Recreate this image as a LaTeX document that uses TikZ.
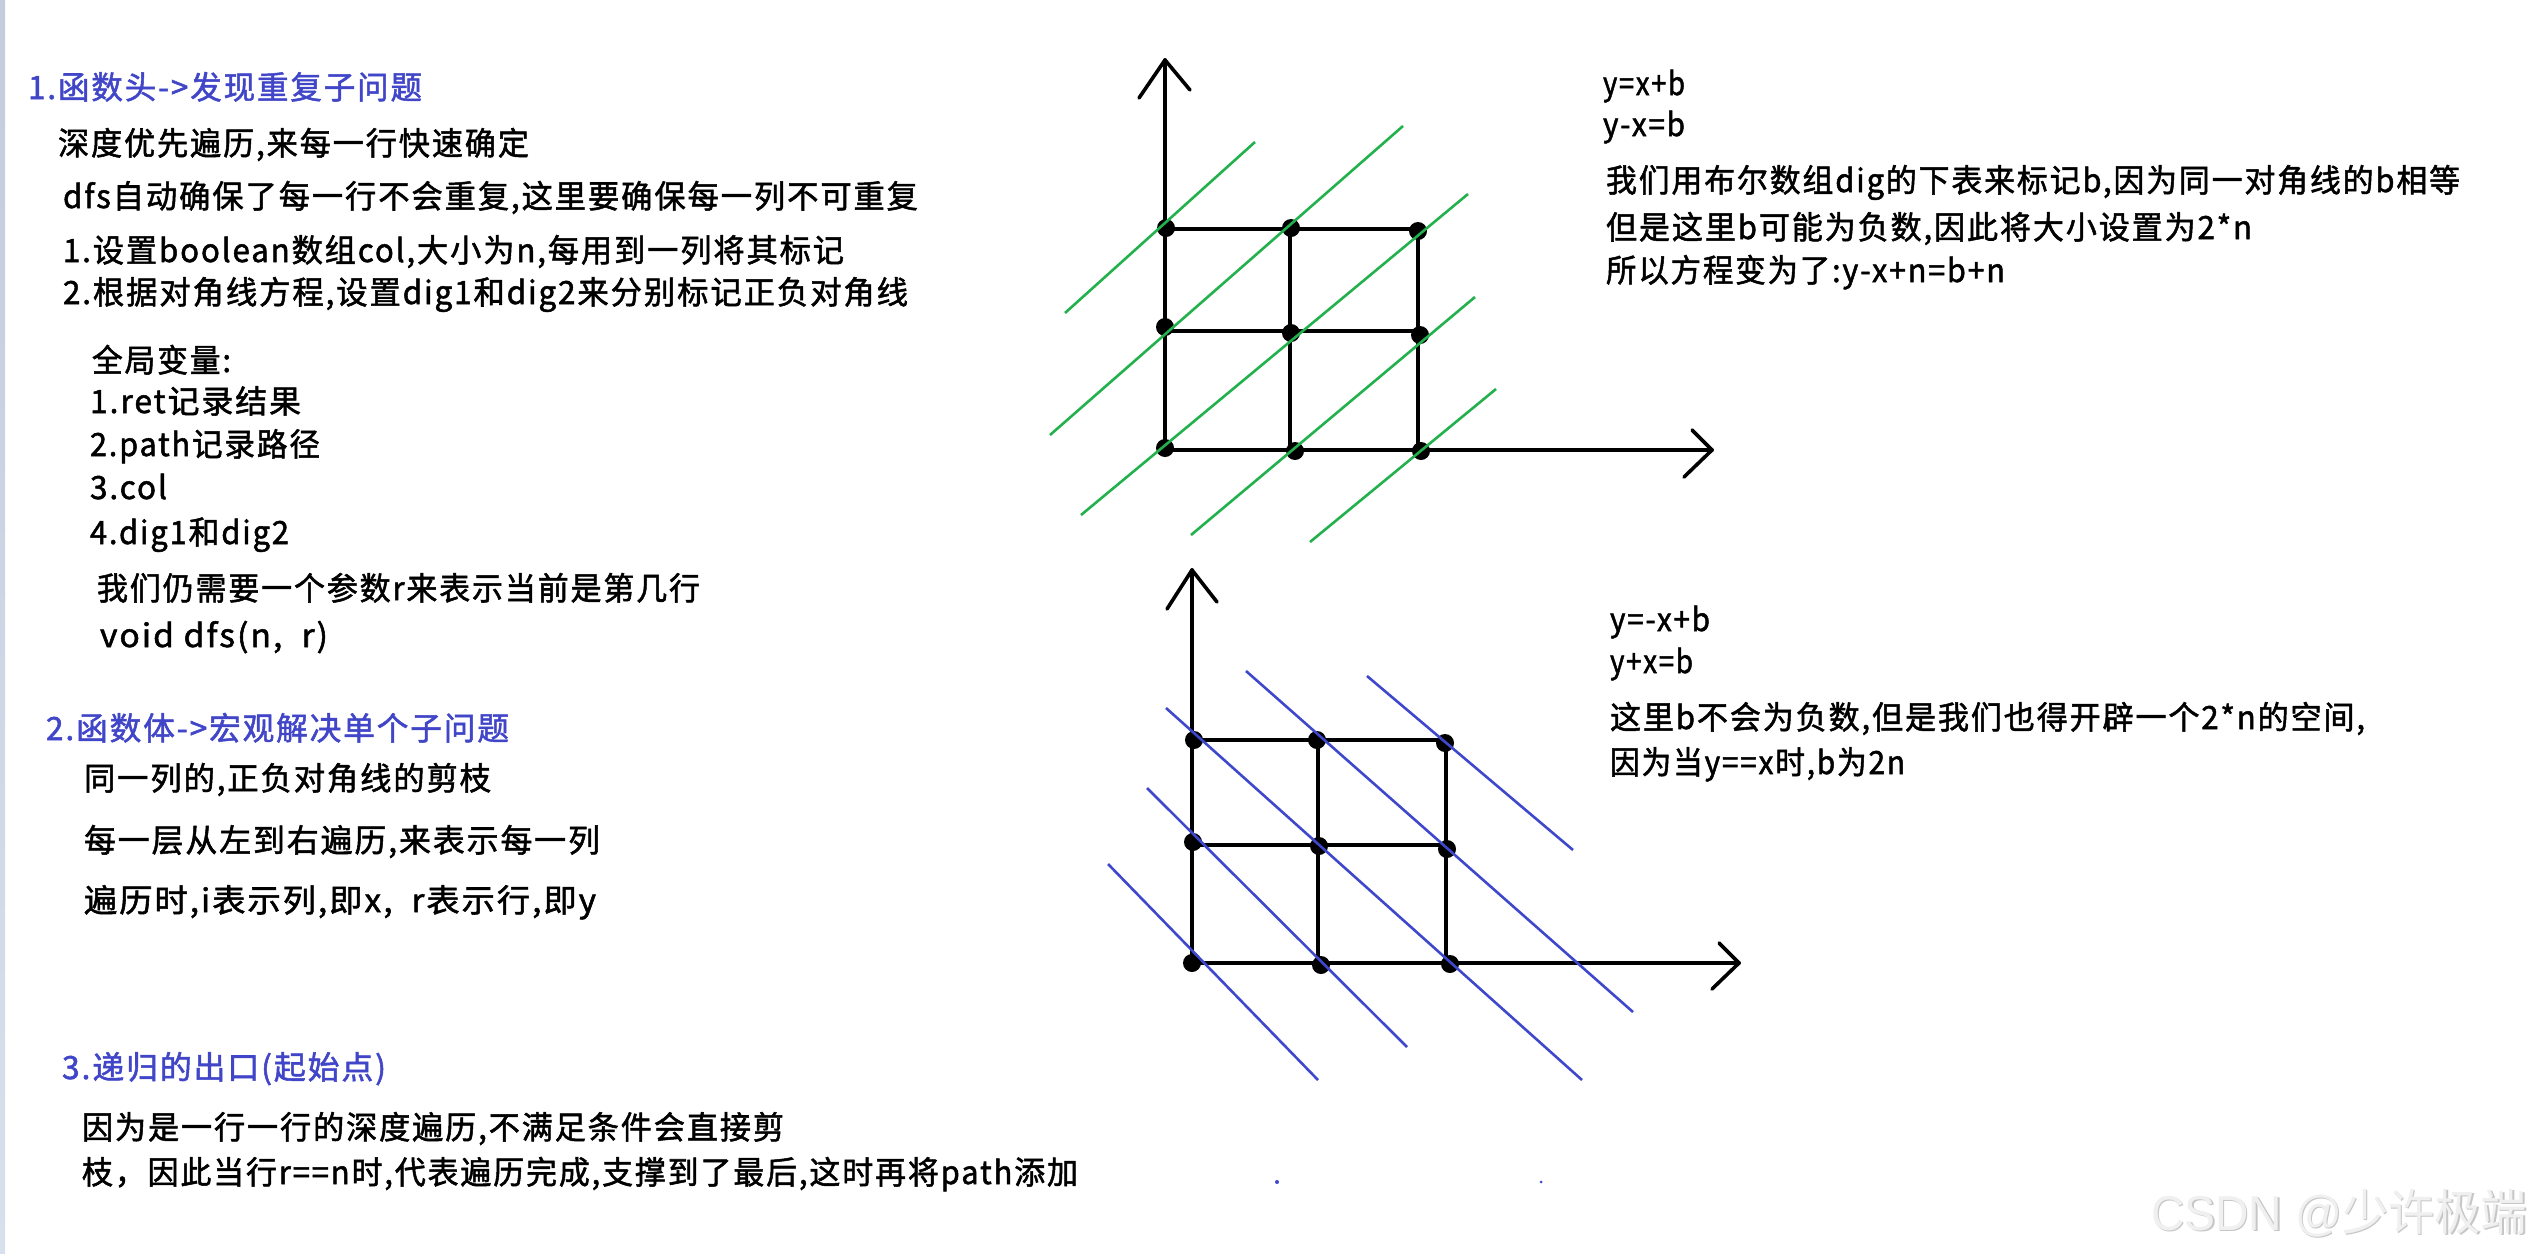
\documentclass[tikz,border=0pt]{standalone}
\usepackage{fontspec}
\usepackage{graphicx}
\setmainfont{Noto Sans CJK SC}[LetterSpace=6, FakeBold=1.6]
\newfontfamily\wmlat{Liberation Sans}
\newfontfamily\wmcjk{Noto Sans CJK SC}
\definecolor{hblue}{HTML}{4146C8}
\definecolor{pgreen}{HTML}{22B14C}
\definecolor{pblue}{HTML}{3F48CC}
\definecolor{stripA}{HTML}{C4CCDD}
\definecolor{stripB}{HTML}{D8E0EC}
\newcommand\fitw[2]{\resizebox{#1pt}{\height}{#2}}
\tikzset{
  txt/.style={anchor=base west, inner sep=0pt, outer sep=0pt, font=\fontsize{32}{38}\selectfont, text=black},
  head/.style={txt, text=hblue},
  axisline/.style={line width=3.6pt, black, line cap=round, line join=round},
  gridline/.style={line width=3.4pt, black},
  gline/.style={line width=2.6pt, pgreen},
  bline/.style={line width=2.6pt, pblue},
  gdot/.style={circle, fill=black, minimum size=18pt, inner sep=0pt},
  wmark/.style={anchor=base west, inner sep=0pt, font=\fontsize{49}{55}\selectfont},
}
\begin{document}
\begin{tikzpicture}[x=1pt,y=-1pt]
\fill[white] (0,0) rectangle (2534,1253);
\useasboundingbox (0,0) rectangle (2534,1253);
\shade[top color=stripA, bottom color=stripB] (0,0) rectangle (5,1253);

% ---------- left text ----------
\node[head] (h1) at (28,99) {\fitw{394}{1.函数头->发现重复子问题}};
\node[txt] (l2) at (58,155) {\fitw{471}{深度优先遍历,来每一行快速确定}};
\node[txt] (l3) at (63,208) {\fitw{855}{dfs自动确保了每一行不会重复,这里要确保每一列不可重复}};
\node[txt] (l4) at (63,262) {\fitw{781}{1.设置boolean数组col,大小为n,每用到一列将其标记}};
\node[txt] (l5) at (63,304) {\fitw{845}{2.根据对角线方程,设置dig1和dig2来分别标记正负对角线}};
\node[txt] (l6) at (92,372) {\fitw{139}{全局变量:}};
\node[txt] (l7) at (90,413) {\fitw{211}{1.ret记录结果}};
\node[txt] (l8) at (90,456) {\fitw{230}{2.path记录路径}};
\node[txt] (l9) at (90,499) {\fitw{77}{3.col}};
\node[txt] (l10) at (90,544) {\fitw{199}{4.dig1和dig2}};
\node[txt] (l11) at (97,600) {\fitw{603}{我们仍需要一个参数r来表示当前是第几行}};
\node[txt] (l12) at (100,647) {\fitw{228}{void dfs(n,\ \ r)}};
\node[head] (h2) at (46,740) {\fitw{463}{2.函数体->宏观解决单个子问题}};
\node[txt] (l14) at (84,790) {\fitw{407}{同一列的,正负对角线的剪枝}};
\node[txt] (l15) at (84,852) {\fitw{516}{每一层从左到右遍历,来表示每一列}};
\node[txt] (l16) at (84,912) {\fitw{512}{遍历时,i表示列,即x,\ \ r表示行,即y}};
\node[head] (h3) at (62,1079) {\fitw{324}{3.递归的出口(起始点)}};
\node[txt] (l18) at (82,1139) {\fitw{702}{因为是一行一行的深度遍历,不满足条件会直接剪}};
\node[txt] (l19) at (82,1184) {\fitw{996}{枝，因此当行r==n时,代表遍历完成,支撑到了最后,这时再将path添加}};

% ---------- right text ----------
\node[txt] (r1) at (1603,95) {\fitw{82}{y=x+b}};
\node[txt] (r2) at (1603,136) {\fitw{82}{y-x=b}};
\node[txt] (r3) at (1606,192) {\fitw{854}{我们用布尔数组dig的下表来标记b,因为同一对角线的b相等}};
\node[txt] (r4) at (1606,239) {\fitw{646}{但是这里b可能为负数,因此将大小设置为2*n}};
\node[txt] (r5) at (1606,282) {\fitw{399}{所以方程变为了:y-x+n=b+n}};
\node[txt] (r6) at (1610,631) {\fitw{100}{y=-x+b}};
\node[txt] (r7) at (1610,673) {\fitw{83}{y+x=b}};
\node[txt] (r8) at (1610,729) {\fitw{755}{这里b不会为负数,但是我们也得开辟一个2*n的空间,}};
\node[txt] (r9) at (1610,774) {\fitw{295}{因为当y==x时,b为2n}};

% ---------- top graph ----------
\coordinate (o1) at (1165,450);
\coordinate (yt1) at (1165,60);
\coordinate (ya1) at (1139,98);
\coordinate (yb1) at (1190,90);
\coordinate (xt1) at (1712,450);
\coordinate (xa1) at (1692,430);
\coordinate (xb1) at (1684,477);
\draw[axisline] (o1) -- (yt1);
\draw[axisline] (ya1) -- (yt1) -- (yb1);
\draw[axisline] (o1) -- (xt1);
\draw[axisline] (xa1) -- (xt1) -- (xb1);
\coordinate (ta) at (1165,229); \coordinate (tb) at (1290,229); \coordinate (tc) at (1418,229);
\coordinate (ma) at (1165,331); \coordinate (mb) at (1290,331); \coordinate (mc) at (1418,331);
\coordinate (bb) at (1290,450); \coordinate (bc) at (1418,450);
\draw[gridline] (ta) -- (tc);
\draw[gridline] (ma) -- (mc);
\draw[gridline] (tb) -- (bb);
\draw[gridline] (tc) -- (bc);
\node[gdot] (d11) at (1166,228) {};
\node[gdot] (d12) at (1291,228) {};
\node[gdot] (d13) at (1418,231) {};
\node[gdot] (d21) at (1165,327) {};
\node[gdot] (d22) at (1291,333) {};
\node[gdot] (d23) at (1420,335) {};
\node[gdot] (d31) at (1165,448) {};
\node[gdot] (d32) at (1295,451) {};
\node[gdot] (d33) at (1421,451) {};
\coordinate (g1a) at (1065,313); \coordinate (g1b) at (1255,142);
\coordinate (g2a) at (1050,435); \coordinate (g2b) at (1403,126);
\coordinate (g3a) at (1081,515); \coordinate (g3b) at (1468,194);
\coordinate (g4a) at (1191,535); \coordinate (g4b) at (1475,297);
\coordinate (g5a) at (1310,542); \coordinate (g5b) at (1496,389);
\draw[gline] (g1a) -- (g1b);
\draw[gline] (g2a) -- (g2b);
\draw[gline] (g3a) -- (g3b);
\draw[gline] (g4a) -- (g4b);
\draw[gline] (g5a) -- (g5b);

% ---------- bottom graph ----------
\coordinate (o2) at (1192,963);
\coordinate (yt2) at (1192,570);
\coordinate (ya2) at (1167,609);
\coordinate (yb2) at (1217,602);
\coordinate (xt2) at (1739,963);
\coordinate (xa2) at (1719,943);
\coordinate (xb2) at (1712,989);
\draw[axisline] (o2) -- (yt2);
\draw[axisline] (ya2) -- (yt2) -- (yb2);
\draw[axisline] (o2) -- (xt2);
\draw[axisline] (xa2) -- (xt2) -- (xb2);
\coordinate (ua) at (1192,740); \coordinate (ub) at (1318,740); \coordinate (uc) at (1446,740);
\coordinate (va) at (1192,845); \coordinate (vb) at (1318,845); \coordinate (vc) at (1446,845);
\coordinate (wb) at (1318,963); \coordinate (wc) at (1446,963);
\draw[gridline] (ua) -- (uc);
\draw[gridline] (va) -- (vc);
\draw[gridline] (ub) -- (wb);
\draw[gridline] (uc) -- (wc);
\node[gdot] (e11) at (1194,740) {};
\node[gdot] (e12) at (1317,740) {};
\node[gdot] (e13) at (1445,743) {};
\node[gdot] (e21) at (1193,842) {};
\node[gdot] (e22) at (1319,846) {};
\node[gdot] (e23) at (1447,849) {};
\node[gdot] (e31) at (1192,963) {};
\node[gdot] (e32) at (1321,965) {};
\node[gdot] (e33) at (1450,964) {};
\coordinate (b1a) at (1246,671); \coordinate (b1b) at (1633,1012);
\coordinate (b2a) at (1367,676); \coordinate (b2b) at (1573,850);
\coordinate (b3a) at (1166,708); \coordinate (b3b) at (1582,1080);
\coordinate (b4a) at (1147,788); \coordinate (b4b) at (1407,1047);
\coordinate (b5a) at (1108,864); \coordinate (b5b) at (1318,1080);
\draw[bline] (b1a) -- (b1b);
\draw[bline] (b2a) -- (b2b);
\draw[bline] (b3a) -- (b3b);
\draw[bline] (b4a) -- (b4b);
\draw[bline] (b5a) -- (b5b);
\fill[pblue] (1277,1182) circle (2);
\fill[pblue] (1541,1182) circle (1.5);

% ---------- watermark ----------
\node[wmark, text=gray!45] (wm0) at (2152.5,1231.5) {\fitw{376}{\wmlat CSDN @\wmcjk 少许极端}};
\node[wmark, text=gray!12] (wm) at (2151,1230) {\fitw{376}{\wmlat CSDN @\wmcjk 少许极端}};
\end{tikzpicture}
\end{document}
